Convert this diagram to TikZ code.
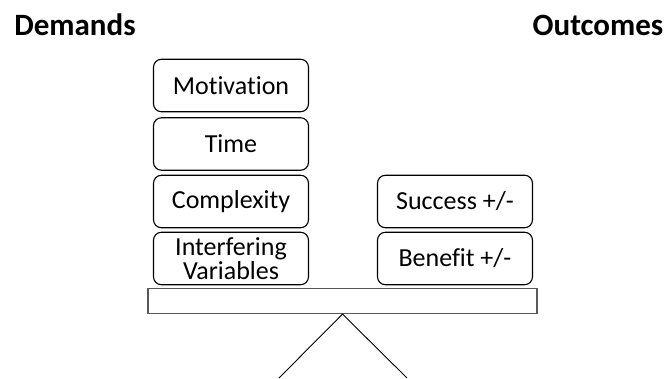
\documentclass[tikz,border=0pt]{standalone}
\usepackage{fontspec}
\setmainfont{Carlito}[Ligatures=NoCommon]

\begin{document}
\begin{tikzpicture}[x=1pt,y=-1pt,
		factor/.style={draw, rounded corners=8pt, line width=1.1pt, minimum width=155pt, minimum height=52.5pt, inner sep=0pt, align=center, font=\fontsize{26}{24.5}\selectfont},
		heading/.style={anchor=base, font=\fontsize{31}{34}\selectfont\bfseries}]
		\useasboundingbox (0,0) rectangle (667,378);
		\node[heading] (demands) at (75,35){Demands};
		\node[heading] (outcomes) at (598,35){Outcomes};
		\node[factor] (motivation) at (231,85.5){Motivation};
		\node[factor] (time) at (231,144){Time};
		\node[factor] (complexity) at (231,201.5){Complexity};
		\node[factor] (interfering) at (231,258.5){Interfering\\Variables};
		\node[factor] (success) at (455,201.5){Success +/-};
		\node[factor] (benefit) at (455,258.5){Benefit +/-};
		\node[draw=black!65, line width=1.1pt, minimum width=389pt, minimum height=25.5pt, inner sep=0pt] (beam) at (342.5,300.8){};
		\coordinate (pivot) at (beam.south);
		\coordinate (footl) at (279,378);
		\coordinate (footr) at (407,378);
		\draw[line width=0.9pt] (footl) -- (pivot) -- (footr);
	\end{tikzpicture}
\end{document}
